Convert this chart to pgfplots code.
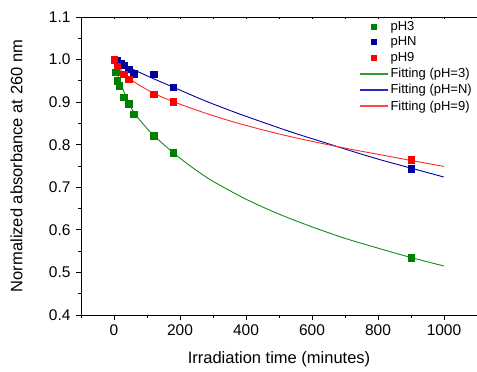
\documentclass[border=0pt]{standalone}
\usepackage{pgfplots}
\pgfplotsset{compat=1.18}
\usepackage{fontspec}
\setmainfont{Liberation Sans}
\definecolor{cgreen}{RGB}{0,128,0}
\definecolor{cgreenl}{RGB}{20,140,20}
\definecolor{cblue}{RGB}{0,0,160}
\definecolor{cred}{RGB}{255,0,0}
\definecolor{credl}{RGB}{255,40,40}
\definecolor{lgreen}{RGB}{50,155,50}
\definecolor{lblue}{RGB}{40,40,190}
\definecolor{lred}{RGB}{255,70,70}
\begin{document}
\begin{tikzpicture}
\begin{axis}[
  name=main,
  scale only axis,
  width=396pt, height=298pt,
  xmin=-100, xmax=1100, ymin=0.4, ymax=1.1,
  xtick={0,200,400,600,800,1000},
  minor xtick={-100,100,300,500,700,900,1100},
  ytick={0.4,0.5,0.6,0.7,0.8,0.9,1.0,1.1},
  minor ytick={0.45,0.55,0.65,0.75,0.85,0.95,1.05},
  yticklabel style={/pgf/number format/fixed, /pgf/number format/fixed zerofill, /pgf/number format/precision=1, xshift=-2pt},
  xticklabel style={/pgf/number format/set thousands separator={}, yshift=-1pt},
  /pgf/number format/assume math mode=true,
  tick align=outside,
  xtick pos=bottom, ytick pos=left,
  major tick length=5pt, minor tick length=3pt,
  tick style={black, line width=0.8pt},
  axis line style={line width=0.8pt},
  ticklabel style={font=\fontsize{15.5}{17}\selectfont},
  xlabel={Irradiation time (minutes)},
  ylabel={Normalized absorbance at 260 nm},
  every axis x label/.style={at={(axis description cs:0.5,-0.1107)}, anchor=north, font=\fontsize{16.5}{18}\selectfont},
  every axis y label/.style={at={(axis description cs:-0.1389,0.5)}, rotate=90, anchor=south, font=\fontsize{16.5}{18}\selectfont},
  legend style={draw=none, fill=none, at={(1.0,1.0)}, anchor=north east,
    font=\fontsize{13}{14}\selectfont, row sep=1.2pt},
  legend cell align=left,
  legend image code/.code={\draw[mark repeat=2,mark phase=2,#1] plot coordinates {(0pt,0pt) (14pt,0pt) (28pt,0pt)};},
]
% fitting curves
\addplot[color=cgreenl, line width=0.9pt, smooth, forget plot] coordinates {
(0,1.0) (5,0.982) (10,0.968) (15,0.955) (30,0.925) (45,0.898) (60,0.876) (90,0.847) (120,0.822) (180,0.781) (240,0.745) (300,0.714) (400,0.672) (500,0.637) (600,0.607) (700,0.580) (800,0.557) (900,0.535) (1000,0.515)};
\addplot[color=cblue, line width=0.9pt, smooth, forget plot] coordinates {
(0,1.0) (10,0.995) (30,0.987) (60,0.976) (120,0.955) (180,0.935) (270,0.905) (360,0.878) (450,0.853) (540,0.829) (630,0.807) (720,0.785) (810,0.764) (900,0.745) (1000,0.724)};
\addplot[color=credl, line width=0.9pt, smooth, forget plot] coordinates {
(0,1.0) (5,0.991) (10,0.985) (20,0.976) (30,0.968) (60,0.948) (120,0.921) (180,0.901) (270,0.876) (360,0.854) (450,0.835) (540,0.818) (630,0.803) (720,0.789) (810,0.776) (900,0.763) (1000,0.749)};
% data
\addplot[only marks, mark=square*, mark size=3.2pt, color=cgreen, forget plot] coordinates {
(0,1.0) (5,0.970) (10,0.950) (15,0.939) (30,0.912) (45,0.896) (60,0.872) (120,0.821) (180,0.781) (900,0.535)};
\addplot[only marks, mark=square*, mark size=3.2pt, color=cblue, forget plot] coordinates {
(0,1.0) (10,0.997) (20,0.992) (30,0.987) (45,0.978) (60,0.967) (120,0.965) (180,0.935) (900,0.744)};
\addplot[only marks, mark=square*, mark size=3.2pt, color=cred, forget plot] coordinates {
(0,1.0) (10,0.985) (30,0.966) (45,0.954) (120,0.919) (180,0.901) (900,0.765)};
\addlegendimage{only marks, mark=square*, mark size=2.5pt, color=cgreen}
\addlegendentry{pH3}
\addlegendimage{only marks, mark=square*, mark size=2.5pt, color=cblue}
\addlegendentry{pHN}
\addlegendimage{only marks, mark=square*, mark size=2.5pt, color=cred}
\addlegendentry{pH9}
\addlegendimage{no markers, draw=lgreen, color=lgreen, line width=1.3pt}
\addlegendentry{Fitting (pH=3)}
\addlegendimage{no markers, draw=lblue, color=lblue, line width=1.3pt}
\addlegendentry{Fitting (pH=N)}
\addlegendimage{no markers, draw=lred, color=lred, line width=1.3pt}
\addlegendentry{Fitting (pH=9)}
\end{axis}
\begin{axis}[
  scale only axis,
  width=396pt, height=298pt,
  xmin=-100, xmax=1100, ymin=0.4, ymax=1.1,
  axis x line*=top, axis y line=none,
  xtick={0,100,...,1000}, xticklabels={},
  tick align=inside, major tick length=2.5pt,
  tick style={black, line width=0.7pt},
  axis line style={line width=0.8pt},
]
\addplot[draw=none] coordinates {(0,0.5)};
\end{axis}
\pgfresetboundingbox
\path ([xshift=-81pt,yshift=-57pt]main.south west) rectangle ([yshift=17pt]main.north east);
\end{tikzpicture}
\end{document}
